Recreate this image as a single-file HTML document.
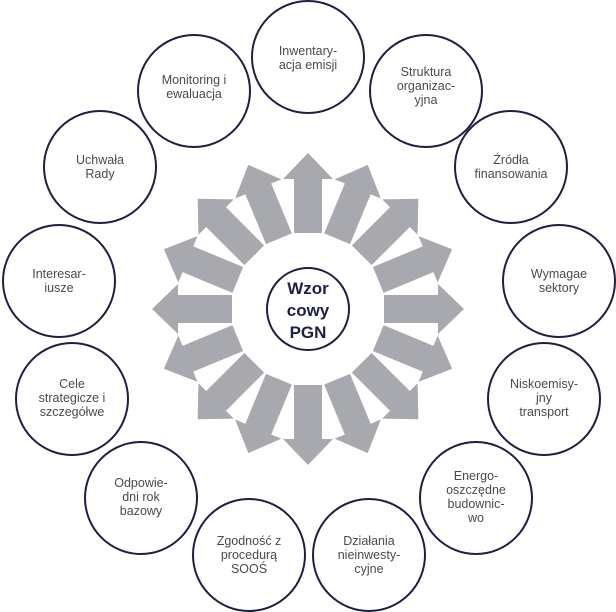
<!DOCTYPE html>
<html><head><meta charset="utf-8"><style>
html,body{margin:0;padding:0;background:#fff;}
svg{display:block}
text{font-family:"Liberation Sans",sans-serif;}
</style></head><body>
<svg width="616" height="612" viewBox="0 0 616 612" xmlns="http://www.w3.org/2000/svg">
<defs>
<path id="arr" d="M294,233 L294,179 L283,179 L308,153 L333,179 L322,179 L322,233 Z" fill="#a8a9ae"/>
</defs>
<g>
<use href="#arr" transform="rotate(0 308 309)"/>
<use href="#arr" transform="rotate(22.5 308 309)"/>
<use href="#arr" transform="rotate(45 308 309)"/>
<use href="#arr" transform="rotate(67.5 308 309)"/>
<use href="#arr" transform="rotate(90 308 309)"/>
<use href="#arr" transform="rotate(112.5 308 309)"/>
<use href="#arr" transform="rotate(135 308 309)"/>
<use href="#arr" transform="rotate(157.5 308 309)"/>
<use href="#arr" transform="rotate(180 308 309)"/>
<use href="#arr" transform="rotate(202.5 308 309)"/>
<use href="#arr" transform="rotate(225 308 309)"/>
<use href="#arr" transform="rotate(247.5 308 309)"/>
<use href="#arr" transform="rotate(270 308 309)"/>
<use href="#arr" transform="rotate(292.5 308 309)"/>
<use href="#arr" transform="rotate(315 308 309)"/>
<use href="#arr" transform="rotate(337.5 308 309)"/>
</g>
<g fill="#fff" stroke="#1e1f45" stroke-width="2">
<circle cx="308" cy="309" r="41"/>
<circle cx="308" cy="57" r="56"/>
<circle cx="194" cy="91" r="56"/>
<circle cx="426" cy="91" r="56"/>
<circle cx="100" cy="167" r="56"/>
<circle cx="511" cy="167" r="56"/>
<circle cx="59" cy="281" r="56"/>
<circle cx="559" cy="281" r="56"/>
<circle cx="72" cy="399" r="56"/>
<circle cx="544" cy="399" r="56"/>
<circle cx="141" cy="498" r="56"/>
<circle cx="476" cy="498" r="56"/>
<circle cx="249" cy="555" r="56"/>
<circle cx="369" cy="555" r="56"/>
</g>
<g font-size="17" font-weight="bold" fill="#1e1f45" text-anchor="middle">
<text x="308" y="294">Wzor</text>
<text x="308" y="316">cowy</text>
<text x="308" y="338">PGN</text>
</g>
<g font-size="12.5" fill="#4a4a4a" text-anchor="middle">
<text x="308" y="55">Inwentary-</text><text x="308" y="69">acja emisji</text>
<text x="194" y="84">Monitoring i</text><text x="194" y="98">ewaluacja</text>
<text x="426" y="76">Struktura</text><text x="426" y="90">organizac-</text><text x="426" y="104">yjna</text>
<text x="100" y="164">Uchwała</text><text x="100" y="178">Rady</text>
<text x="511" y="164">Źródła</text><text x="511" y="178">finansowania</text>
<text x="59" y="278">Interesar-</text><text x="59" y="292">iusze</text>
<text x="559" y="278">Wymagae</text><text x="559" y="292">sektory</text>
<text x="72" y="388">Cele</text><text x="72" y="402">strategicze i</text><text x="72" y="416">szczegółwe</text>
<text x="544" y="388">Niskoemisy-</text><text x="544" y="402">jny</text><text x="544" y="416">transport</text>
<text x="141" y="487">Odpowie-</text><text x="141" y="501">dni rok</text><text x="141" y="515">bazowy</text>
<text x="476" y="480">Energo-</text><text x="476" y="494">oszczędne</text><text x="476" y="508">budownic-</text><text x="476" y="522">wo</text>
<text x="249" y="545">Zgodność z</text><text x="249" y="559">procedurą</text><text x="249" y="573">SOOŚ</text>
<text x="369" y="545">Działania</text><text x="369" y="559">nieinwesty-</text><text x="369" y="573">cyjne</text>
</g>
</svg>
</body></html>
